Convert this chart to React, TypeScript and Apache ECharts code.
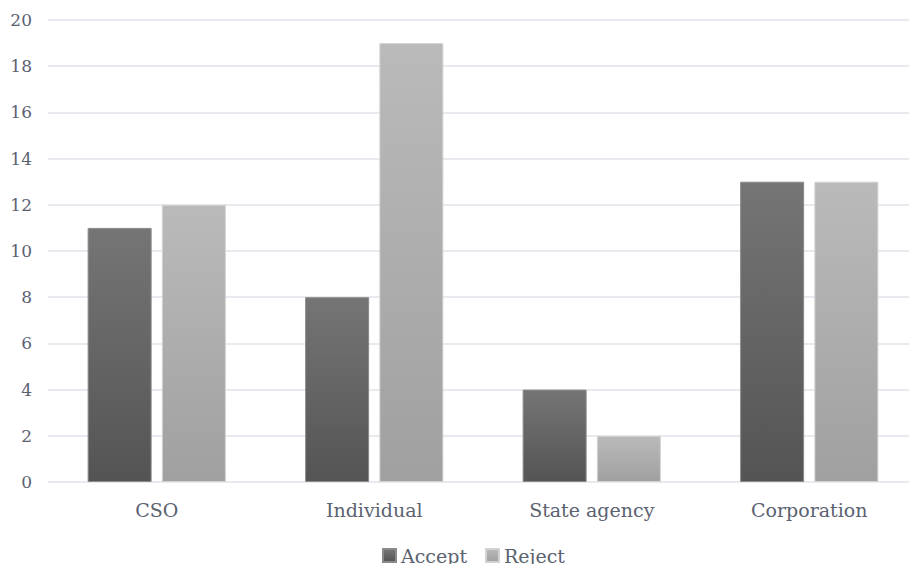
import React, { useEffect, useRef } from "react";
import * as echarts from "echarts";

const categories = ["CSO", "Individual", "State agency", "Corporation"];
const acceptValues = [11, 8, 4, 13];
const rejectValues = [12, 19, 2, 13];
const seriesNames = ["Accept", "Reject"];

export default function App() {
  const ref = useRef<HTMLDivElement>(null);
  useEffect(() => {
    if (!ref.current) return;
    const chart = echarts.init(ref.current, null, { renderer: "svg" });
    const font = "DejaVu Serif";
    const textColor = "#5b6270";
    chart.setOption({
      animation: false,
      textStyle: { fontFamily: font },
      grid: { left: 48, top: 20, right: 0, height: 462, containLabel: false },
      legend: {
        left: 377,
        top: 541,
        itemWidth: 13,
        itemHeight: 13,
        itemGap: 18,
        icon: "rect",
        textStyle: { fontFamily: font, fontSize: 19, color: textColor },
        data: seriesNames,
      },
      xAxis: {
        type: "category",
        data: categories,
        axisLine: { show: false },
        axisTick: { show: false },
        axisLabel: { fontFamily: font, fontSize: 19, color: textColor, margin: 18 },
      },
      yAxis: {
        type: "value",
        min: 0,
        max: 20,
        interval: 2,
        axisLine: { show: false },
        axisTick: { show: false },
        splitLine: { lineStyle: { color: "#dfe3ea", width: 1.5 } },
        axisLabel: { fontFamily: font, fontSize: 17, color: textColor, margin: 16 },
      },
      series: [
        {
          name: seriesNames[0],
          type: "bar",
          data: acceptValues,
          barWidth: 64,
          barGap: "16%",
          itemStyle: {
            color: new echarts.graphic.LinearGradient(0, 0, 0, 1, [
              { offset: 0, color: "#757575" },
              { offset: 1, color: "#545454" },
            ]),
            borderColor: "#8a8a8a",
            borderWidth: 1,
          },
        },
        {
          name: seriesNames[1],
          type: "bar",
          data: rejectValues,
          barWidth: 64,
          barGap: "16%",
          itemStyle: {
            color: new echarts.graphic.LinearGradient(0, 0, 0, 1, [
              { offset: 0, color: "#bababa" },
              { offset: 1, color: "#a0a0a0" },
            ]),
            borderColor: "#d2d2d2",
            borderWidth: 1,
          },
        },
      ],
    });
    return () => chart.dispose();
  }, []);
  return (
    <div style={{ position: "absolute", left: 0, top: 0, width: 909, height: 564, overflow: "hidden", background: "#fff" }}>
      <div ref={ref} style={{ width: 918, height: 564 }} />
    </div>
  );
}
